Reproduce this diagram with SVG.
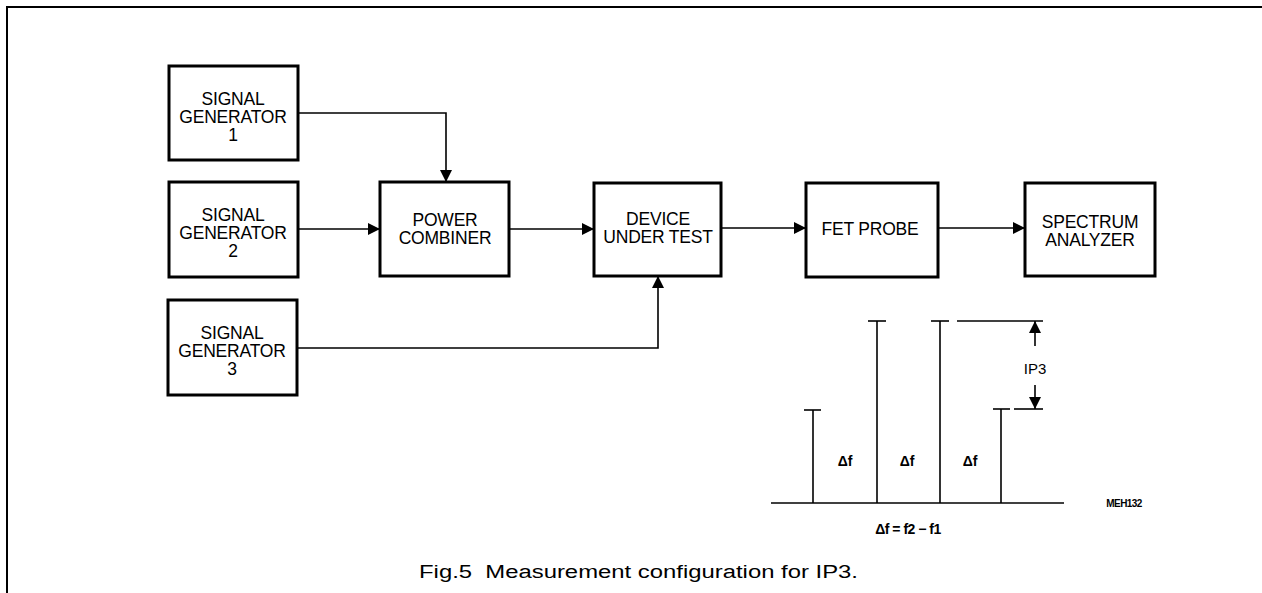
<svg xmlns="http://www.w3.org/2000/svg" width="1262" height="593" viewBox="0 0 1262 593">
<style>
.box{fill:#fff;stroke:#000;stroke-width:3}
.t{font-family:"Liberation Sans",Arial,sans-serif;font-size:17.5px;fill:#000;text-anchor:middle;letter-spacing:-0.2px}
.c{fill:none;stroke:#000;stroke-width:1.6}
.s{fill:none;stroke:#000;stroke-width:1.6}
.lbl{font-family:"Liberation Sans",Arial,sans-serif;fill:#000;text-anchor:middle}
</style>
<defs>
<marker id="ah" viewBox="0 0 12 12" refX="12" refY="6" markerWidth="12" markerHeight="12" markerUnits="userSpaceOnUse" orient="auto">
<path d="M0,0 L12,6 L0,12 Z" fill="#000"/>
</marker>
</defs>
<rect width="1262" height="593" fill="#fff"/>
<g id="frame">
<line x1="6" y1="7" x2="1262" y2="7" stroke="#000" stroke-width="2"/>
<line x1="7" y1="6" x2="7" y2="593" stroke="#000" stroke-width="2"/>
</g>
<g id="sg1"><rect class="box" x="169" y="66" width="129" height="94"/>
<text class="t" x="233" y="105">SIGNAL</text><text class="t" x="233" y="123">GENERATOR</text><text class="t" x="233" y="141">1</text></g>
<g id="sg2"><rect class="box" x="169" y="182" width="129" height="95"/>
<text class="t" x="233" y="221">SIGNAL</text><text class="t" x="233" y="239">GENERATOR</text><text class="t" x="233" y="257">2</text></g>
<g id="sg3"><rect class="box" x="168" y="300" width="129" height="95"/>
<text class="t" x="232" y="339">SIGNAL</text><text class="t" x="232" y="357">GENERATOR</text><text class="t" x="232" y="375">3</text></g>
<g id="pc"><rect class="box" x="380" y="182" width="129" height="94"/>
<text class="t" x="445" y="226">POWER</text><text class="t" x="445" y="244">COMBINER</text></g>
<g id="dut"><rect class="box" x="594" y="183" width="127" height="93"/>
<text class="t" x="658" y="225">DEVICE</text><text class="t" x="658" y="243">UNDER TEST</text></g>
<g id="fet"><rect class="box" x="806" y="183" width="132" height="94"/>
<text class="t" x="870" y="235">FET PROBE</text></g>
<g id="sa"><rect class="box" x="1025" y="183" width="130" height="93"/>
<text class="t" x="1090" y="228">SPECTRUM</text><text class="t" x="1090" y="246">ANALYZER</text></g>
<g id="connectors">
<path class="c" d="M298,113 H446 V182" marker-end="url(#ah)"/>
<path class="c" d="M298,229 H380" marker-end="url(#ah)"/>
<path class="c" d="M509,229 H594" marker-end="url(#ah)"/>
<path class="c" d="M721,228 H806" marker-end="url(#ah)"/>
<path class="c" d="M938,228 H1025" marker-end="url(#ah)"/>
<path class="c" d="M297,348 H658 V276" marker-end="url(#ah)"/>
</g>
<g id="spectrum">
<line class="s" x1="771" y1="503" x2="1064" y2="503" stroke-width="2"/>
<line class="s" x1="813" y1="410" x2="813" y2="503"/>
<line class="s" x1="804" y1="410" x2="821" y2="410" stroke-width="2"/>
<line class="s" x1="877" y1="321" x2="877" y2="503" stroke-width="2.4"/>
<line class="s" x1="868" y1="321" x2="886" y2="321" stroke-width="2"/>
<line class="s" x1="940" y1="321" x2="940" y2="503"/>
<line class="s" x1="931" y1="321" x2="949" y2="321" stroke-width="2"/>
<line class="s" x1="1001" y1="409" x2="1001" y2="503"/>
<line class="s" x1="993" y1="409" x2="1010" y2="409" stroke-width="2"/>
<line class="s" x1="957" y1="321" x2="1043" y2="321" stroke-width="2"/>
<line class="s" x1="1014" y1="409" x2="1043" y2="409" stroke-width="2"/>
<path class="c" d="M1035,346 V321" marker-end="url(#ah)"/>
<path class="c" d="M1035,385 V409" marker-end="url(#ah)"/>
<text class="lbl" x="1035" y="374" font-size="15">IP3</text>
<text class="lbl" x="845" y="466" font-size="14" font-weight="bold">Δf</text>
<text class="lbl" x="907" y="466" font-size="14" font-weight="bold">Δf</text>
<text class="lbl" x="970" y="466" font-size="14" font-weight="bold">Δf</text>
<text class="lbl" x="908" y="534" font-size="14" font-weight="bold" letter-spacing="-0.5">Δf = f2 − f1</text>
<text class="lbl" x="1124" y="507" font-size="10" font-weight="bold" letter-spacing="-0.6">MEH132</text>
</g>
<text x="419" y="578" font-family="'Liberation Sans',Arial,sans-serif" font-size="18" style="white-space:pre" textLength="439" lengthAdjust="spacingAndGlyphs">Fig.5  Measurement configuration for IP3.</text>
</svg>
